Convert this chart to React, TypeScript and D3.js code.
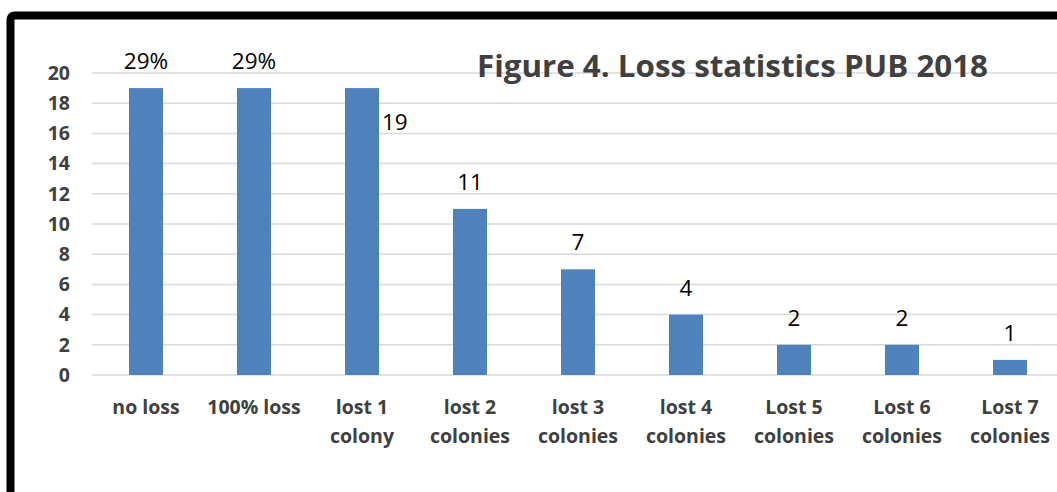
import React, { useEffect, useRef } from 'react';
import * as d3 from 'd3';

const categories = [
  ['no loss'],
  ['100% loss'],
  ['lost 1', 'colony'],
  ['lost 2', 'colonies'],
  ['lost 3', 'colonies'],
  ['lost 4', 'colonies'],
  ['Lost 5', 'colonies'],
  ['Lost 6', 'colonies'],
  ['Lost 7', 'colonies'],
];
const values = [19, 19, 19, 11, 7, 4, 2, 2, 1];
const dataLabels = ['29%', '29%', '19', '11', '7', '4', '2', '2', '1'];
const yTicks = [0, 2, 4, 6, 8, 10, 12, 14, 16, 18, 20];

const W = 1057;
const H = 492;
const FONT = "'Open Sans', 'Liberation Sans', sans-serif";

const App: React.FC = () => {
  const svgRef = useRef<SVGSVGElement>(null);

  useEffect(() => {
    if (!svgRef.current) return;
    const svg = d3.select(svgRef.current);
    svg.selectAll('*').remove();

    const left = 92;
    const right = 1064;
    const top = 73;
    const bottom = 375;

    const x = d3.scaleBand<number>()
      .domain(d3.range(values.length))
      .range([left, right])
      .paddingInner(0.685)
      .paddingOuter(0.3425);
    const y = d3.scaleLinear().domain([0, 20]).range([bottom, top]);

    svg.append('rect').attr('width', W).attr('height', H).attr('fill', '#fff');

    // frame
    svg.append('rect')
      .attr('x', 10.5).attr('y', 15.5)
      .attr('width', W + 40).attr('height', H + 40)
      .attr('rx', 4)
      .attr('fill', 'none')
      .attr('stroke', '#000')
      .attr('stroke-width', 8);

    // gridlines
    svg.append('g').selectAll('line')
      .data(yTicks)
      .join('line')
      .attr('x1', left).attr('x2', right)
      .attr('y1', d => y(d)).attr('y2', d => y(d))
      .attr('stroke', '#d9d9d9')
      .attr('stroke-width', 1.5);

    // y tick labels
    svg.append('g').selectAll('text')
      .data(yTicks)
      .join('text')
      .attr('x', 70).attr('y', d => y(d))
      .attr('dy', '0.35em')
      .attr('text-anchor', 'end')
      .attr('font-family', FONT)
      .attr('font-weight', 'bold')
      .attr('font-size', 19.5)
      .attr('fill', '#404040')
      .text(d => d);

    // bars
    svg.append('g').selectAll('rect')
      .data(values)
      .join('rect')
      .attr('x', (_, i) => x(i)!)
      .attr('y', d => y(d))
      .attr('width', x.bandwidth())
      .attr('height', d => y(0) - y(d))
      .attr('fill', '#4f81bd');

    // data labels
    svg.append('g').selectAll('text')
      .data(values)
      .join('text')
      .attr('x', (_, i) => i === 2 ? x(i)! + x.bandwidth() + 3 : x(i)! + x.bandwidth() / 2)
      .attr('y', (d, i) => i === 2 ? y(d) + 42 : y(d) - 19)
      .attr('text-anchor', (_, i) => i === 2 ? 'start' : 'middle')
      .attr('font-family', FONT)
      .attr('font-size', 22.5)
      .attr('fill', '#000')
      .text((_, i) => dataLabels[i]);

    // category labels
    const cat = svg.append('g').selectAll('text')
      .data(categories)
      .join('text')
      .attr('x', (_, i) => x(i)! + x.bandwidth() / 2)
      .attr('y', 414)
      .attr('text-anchor', 'middle')
      .attr('font-family', FONT)
      .attr('font-weight', 'bold')
      .attr('font-size', 19.5)
      .attr('fill', '#404040');
    cat.selectAll('tspan')
      .data(d => d)
      .join('tspan')
      .attr('x', function () {
        return (this.parentNode as SVGTextElement).getAttribute('x');
      })
      .attr('dy', (_, j) => (j === 0 ? 0 : 29))
      .text(d => d);

    // title
    svg.append('text')
      .attr('x', 477).attr('y', 77)
      .attr('font-family', FONT)
      .attr('font-weight', 'bold')
      .attr('font-size', 31)
      .attr('textLength', 511)
      .attr('lengthAdjust', 'spacingAndGlyphs')
      .attr('fill', '#404040')
      .text('Figure 4. Loss statistics PUB 2018');
  }, []);

  return (
    <svg
      ref={svgRef}
      width={W}
      height={H}
      style={{ position: 'absolute', left: 0, top: 0 }}
    />
  );
};

export default App;
